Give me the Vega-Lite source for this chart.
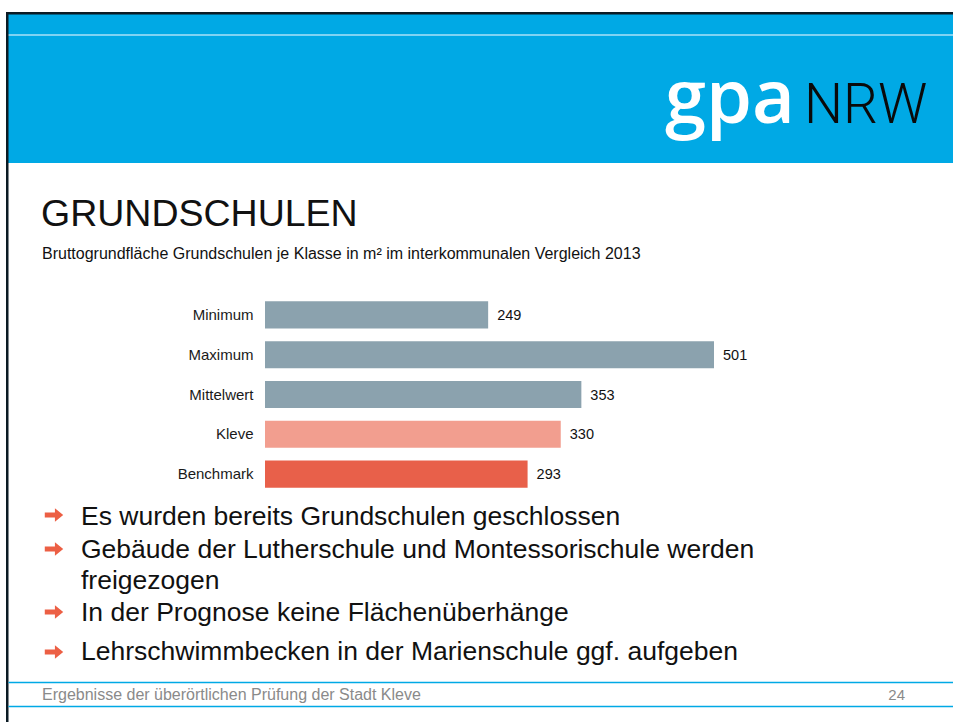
{
  "$schema": "https://vega.github.io/schema/vega-lite/v6.json",
  "width": 953,
  "height": 722,
  "autosize": "none",
  "padding": 0,
  "background": "white",
  "config": {"view": {"stroke": null}, "font": "Liberation Sans"},
  "layer": [
    {"data": {"values": [{}]}, "mark": {"type": "rect", "color": "#00A9E5"},
     "encoding": {"x": {"value": 8}, "x2": {"value": 953}, "y": {"value": 14}, "y2": {"value": 163}}},
    {"data": {"values": [{}]}, "mark": {"type": "rect", "color": "#7FD3F3"},
     "encoding": {"x": {"value": 8}, "x2": {"value": 953}, "y": {"value": 34}, "y2": {"value": 36}}},
    {"data": {"values": [{}]}, "mark": {"type": "rect", "color": "#0B1B24"},
     "encoding": {"x": {"value": 6}, "x2": {"value": 953}, "y": {"value": 12}, "y2": {"value": 14.5}}},
    {"data": {"values": [{}]}, "mark": {"type": "rect", "color": "#0B1B24"},
     "encoding": {"x": {"value": 6}, "x2": {"value": 8.5}, "y": {"value": 12}, "y2": {"value": 722}}},
    {"data": {"values": [{"t": "gpa"}]},
     "mark": {"type": "text", "align": "left", "baseline": "alphabetic", "font": "Open Sans", "fontWeight": 600, "fontSize": 74, "color": "white"},
     "encoding": {"x": {"value": 665}, "y": {"value": 123}, "text": {"field": "t"}}},
    {"data": {"values": [{"t": "NRW"}]},
     "mark": {"type": "text", "align": "left", "baseline": "alphabetic", "font": "Roboto", "fontWeight": 300, "fontSize": 55, "color": "#0A0A0A"},
     "encoding": {"x": {"value": 804}, "y": {"value": 123}, "text": {"field": "t"}}},
    {"data": {"values": [{"t": "GRUNDSCHULEN"}]},
     "mark": {"type": "text", "align": "left", "baseline": "alphabetic", "fontSize": 37.5, "color": "#111111"},
     "encoding": {"x": {"value": 41}, "y": {"value": 226}, "text": {"field": "t"}}},
    {"data": {"values": [{"t": "Bruttogrundfläche Grundschulen je Klasse in m² im interkommunalen Vergleich 2013"}]},
     "mark": {"type": "text", "align": "left", "baseline": "alphabetic", "fontSize": 16, "color": "#111111"},
     "encoding": {"x": {"value": 42}, "y": {"value": 258.5}, "text": {"field": "t"}}},
    {
      "data": {"values": [
        {"Kategorie": "Minimum", "Wert": 249},
        {"Kategorie": "Maximum", "Wert": 501},
        {"Kategorie": "Mittelwert", "Wert": 353},
        {"Kategorie": "Kleve", "Wert": 330},
        {"Kategorie": "Benchmark", "Wert": 293}
      ]},
      "encoding": {
        "y": {"field": "Kategorie", "type": "nominal", "sort": null,
              "scale": {"range": [295, 494], "paddingInner": 0.32, "paddingOuter": 0.16},
              "axis": {"title": null, "orient": "left", "offset": -258, "domain": false, "ticks": false, "tickSize": 0, "grid": false,
                       "labelPadding": 5, "labelFontSize": 15, "labelColor": "#1A1A1A", "labelFont": "Liberation Sans"}},
        "x": {"field": "Wert", "type": "quantitative", "scale": {"domain": [0, 501], "range": [265, 714], "nice": false, "zero": true}, "axis": null}
      },
      "layer": [
        {"mark": {"type": "bar"},
         "encoding": {"color": {"field": "Kategorie", "type": "nominal", "legend": null,
           "scale": {"domain": ["Minimum", "Maximum", "Mittelwert", "Kleve", "Benchmark"],
                     "range": ["#8BA2AE", "#8BA2AE", "#8BA2AE", "#F29E8F", "#E8604A"]}}}},
        {"mark": {"type": "text", "align": "left", "baseline": "middle", "dx": 9, "dy": 1, "fontSize": 14.5, "color": "#111111"},
         "encoding": {"text": {"field": "Wert", "type": "quantitative"}}}
      ]
    },
    {"data": {"values": [{}]}, "mark": {"type": "point", "shape": "M -1 -0.28 L 0.1 -0.28 L 0.1 -0.72 L 1 0 L 0.1 0.72 L 0.1 0.28 L -1 0.28 Z", "filled": true, "color": "#EC5F44", "size": 340, "opacity": 1},
     "encoding": {"x": {"value": 54}, "y": {"value": 515}}},
    {"data": {"values": [{}]}, "mark": {"type": "point", "shape": "M -1 -0.28 L 0.1 -0.28 L 0.1 -0.72 L 1 0 L 0.1 0.72 L 0.1 0.28 L -1 0.28 Z", "filled": true, "color": "#EC5F44", "size": 340, "opacity": 1},
     "encoding": {"x": {"value": 54}, "y": {"value": 549}}},
    {"data": {"values": [{}]}, "mark": {"type": "point", "shape": "M -1 -0.28 L 0.1 -0.28 L 0.1 -0.72 L 1 0 L 0.1 0.72 L 0.1 0.28 L -1 0.28 Z", "filled": true, "color": "#EC5F44", "size": 340, "opacity": 1},
     "encoding": {"x": {"value": 54}, "y": {"value": 612}}},
    {"data": {"values": [{}]}, "mark": {"type": "point", "shape": "M -1 -0.28 L 0.1 -0.28 L 0.1 -0.72 L 1 0 L 0.1 0.72 L 0.1 0.28 L -1 0.28 Z", "filled": true, "color": "#EC5F44", "size": 340, "opacity": 1},
     "encoding": {"x": {"value": 54}, "y": {"value": 652}}},
    {"data": {"values": [{"t": "Es wurden bereits Grundschulen geschlossen"}]},
     "mark": {"type": "text", "align": "left", "baseline": "alphabetic", "fontSize": 26.5, "color": "#111111"},
     "encoding": {"x": {"value": 81}, "y": {"value": 525}, "text": {"field": "t"}}},
    {"data": {"values": [{"t": "Gebäude der Lutherschule und Montessorischule werden"}]},
     "mark": {"type": "text", "align": "left", "baseline": "alphabetic", "fontSize": 26.5, "color": "#111111"},
     "encoding": {"x": {"value": 81}, "y": {"value": 558}, "text": {"field": "t"}}},
    {"data": {"values": [{"t": "freigezogen"}]},
     "mark": {"type": "text", "align": "left", "baseline": "alphabetic", "fontSize": 26.5, "color": "#111111"},
     "encoding": {"x": {"value": 81}, "y": {"value": 589}, "text": {"field": "t"}}},
    {"data": {"values": [{"t": "In der Prognose keine Flächenüberhänge"}]},
     "mark": {"type": "text", "align": "left", "baseline": "alphabetic", "fontSize": 26.5, "color": "#111111"},
     "encoding": {"x": {"value": 81}, "y": {"value": 621}, "text": {"field": "t"}}},
    {"data": {"values": [{"t": "Lehrschwimmbecken in der Marienschule ggf. aufgeben"}]},
     "mark": {"type": "text", "align": "left", "baseline": "alphabetic", "fontSize": 26.5, "color": "#111111"},
     "encoding": {"x": {"value": 81}, "y": {"value": 660}, "text": {"field": "t"}}},
    {"data": {"values": [{}]}, "mark": {"type": "rule", "color": "#00A9E5", "strokeWidth": 1.5},
     "encoding": {"x": {"value": 8.5}, "x2": {"value": 953}, "y": {"value": 682.5}}},
    {"data": {"values": [{}]}, "mark": {"type": "rule", "color": "#00A9E5", "strokeWidth": 1.5},
     "encoding": {"x": {"value": 8.5}, "x2": {"value": 953}, "y": {"value": 706.5}}},
    {"data": {"values": [{"t": "Ergebnisse der überörtlichen Prüfung der Stadt Kleve"}]},
     "mark": {"type": "text", "align": "left", "baseline": "middle", "fontSize": 16, "color": "#8A8A8A"},
     "encoding": {"x": {"value": 42}, "y": {"value": 695}, "text": {"field": "t"}}},
    {"data": {"values": [{"t": "24"}]},
     "mark": {"type": "text", "align": "right", "baseline": "middle", "fontSize": 15, "color": "#8A8A8A"},
     "encoding": {"x": {"value": 905}, "y": {"value": 695}, "text": {"field": "t"}}}
  ]
}
